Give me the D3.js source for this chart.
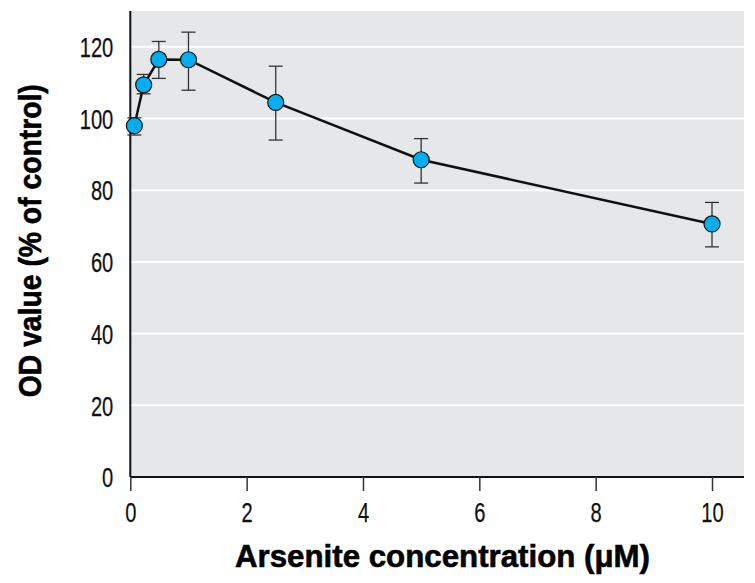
<!DOCTYPE html>
<html><head><meta charset="utf-8">
<script src="https://cdn.jsdelivr.net/npm/d3@7"></script>
<style>body{margin:0;background:#fff}</style>
</head><body><svg id="c" width="755" height="583"></svg>
<script>
const conc = [0.07, 0.23, 0.49, 1, 2.5, 5, 10];
const od = [98, 109.4, 116.5, 116.4, 104.5, 88.5, 70.6];
const errHigh = [100.2, 112.3, 121.5, 124.1, 114.6, 94.4, 76.6];
const errLow = [95.4, 106.9, 111.2, 107.9, 94, 82, 64.2];
const xTicks = [0, 2, 4, 6, 8, 10];
const yTicks = [0, 20, 40, 60, 80, 100, 120];
const xTitle = "Arsenite concentration (μM)";
const yTitle = "OD value (% of control)";

const svg = d3.select("#c");
const L = 130.3, R = 744, T = 11, B = 477;
const x = d3.scaleLinear().domain([0, 10.55]).range([L, R]);
const y = d3.scaleLinear().domain([0, 130]).range([B, T]);
const font = "'Liberation Sans','Arial',sans-serif";

svg.append("rect").attr("x", L).attr("y", T).attr("width", R - L).attr("height", B - T).attr("fill", "#e6e7e8");
svg.append("g").selectAll("line").data(yTicks.filter(d => d > 0)).join("line")
  .attr("x1", L).attr("x2", R).attr("y1", d => y(d)).attr("y2", d => y(d))
  .attr("stroke", "#fff").attr("stroke-width", 2);

const fmt = d3.format("d");
const xa = svg.append("g").attr("transform", `translate(0,${B})`)
  .call(d3.axisBottom(x).tickValues(xTicks).tickSize(14).tickPadding(12).tickFormat(fmt));
xa.select(".domain").attr("stroke", "#111").attr("stroke-width", 2).attr("d", `M${L},0H${R}`);
xa.selectAll(".tick line").attr("stroke", "#333").attr("stroke-width", 1.5);
xa.selectAll("text").attr("font-family", font).attr("font-size", 27).attr("fill", "#111")
  .attr("stroke", "#111").attr("stroke-width", 0.25)
  .attr("textLength", d => fmt(d).length * 11.2).attr("lengthAdjust", "spacingAndGlyphs");

const ya = svg.append("g").attr("transform", `translate(${L},0)`)
  .call(d3.axisLeft(y).tickValues(yTicks).tickSize(0).tickPadding(17).tickFormat(fmt));
ya.select(".domain").attr("stroke", "#111").attr("stroke-width", 2).attr("d", `M0,${B}V${T}`);
ya.selectAll("text").attr("font-family", font).attr("font-size", 27).attr("fill", "#111").attr("dy", "0.36em")
  .attr("stroke", "#111").attr("stroke-width", 0.25)
  .attr("textLength", d => fmt(d).length * 11.2).attr("lengthAdjust", "spacingAndGlyphs");

const data = conc.map((c, i) => ({c, v: od[i], hi: errHigh[i], lo: errLow[i]}));
const eb = svg.append("g").attr("stroke", "#333").attr("stroke-width", 1.3);
data.forEach(d => {
  eb.append("line").attr("x1", x(d.c)).attr("x2", x(d.c)).attr("y1", y(d.hi)).attr("y2", y(d.lo));
  eb.append("line").attr("x1", x(d.c) - 7).attr("x2", x(d.c) + 7).attr("y1", y(d.hi)).attr("y2", y(d.hi));
  eb.append("line").attr("x1", x(d.c) - 7).attr("x2", x(d.c) + 7).attr("y1", y(d.lo)).attr("y2", y(d.lo));
});

svg.append("path").datum(data)
  .attr("d", d3.line().x(d => x(d.c)).y(d => y(d.v)))
  .attr("fill", "none").attr("stroke", "#111").attr("stroke-width", 2.5);

svg.append("g").selectAll("circle").data(data).join("circle")
  .attr("cx", d => x(d.c)).attr("cy", d => y(d.v)).attr("r", 8)
  .attr("fill", "#00aeef").attr("stroke", "#111").attr("stroke-width", 1.2);

svg.append("text").attr("x", 442.5).attr("y", 566.5).attr("text-anchor", "middle")
  .attr("font-family", font).attr("font-weight", "bold").attr("font-size", 31).attr("fill", "#000")
  .attr("stroke", "#000").attr("stroke-width", 0.6)
  .attr("textLength", 415).attr("lengthAdjust", "spacingAndGlyphs").text(xTitle);
svg.append("text").attr("transform", "translate(41,240.7) rotate(-90)").attr("text-anchor", "middle")
  .attr("font-family", font).attr("font-weight", "bold").attr("font-size", 31).attr("fill", "#000")
  .attr("stroke", "#000").attr("stroke-width", 0.6)
  .attr("textLength", 313).attr("lengthAdjust", "spacingAndGlyphs").text(yTitle);
</script></body></html>
